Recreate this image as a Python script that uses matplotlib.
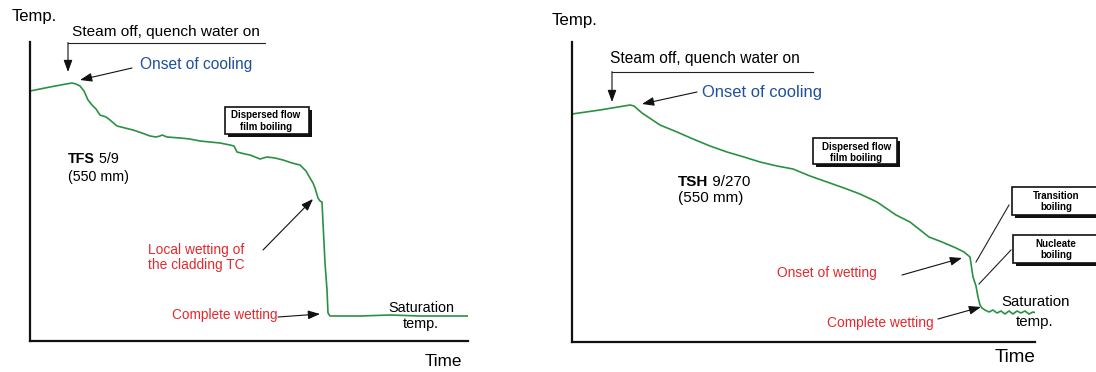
import matplotlib
matplotlib.use("Agg")
import matplotlib.pyplot as plt
from matplotlib.patches import Rectangle

plt.rcParams['font.family'] = ['Liberation Sans', 'DejaVu Sans']

GREEN = '#2b9142'
BLUE = '#1f4f9f'
RED = '#e5282c'

# quench curve, TFS 5/9 (time and temperature in arbitrary units)
tfs_time = [0, 20, 36, 42, 46, 50, 54, 58, 62, 66, 70, 76, 80, 87, 95, 103, 112, 120,
            126, 130, 132, 137, 150, 160, 170, 180, 190, 200, 204, 207, 215, 220, 230,
            237, 245, 253, 262, 270, 276, 280, 283, 285, 288, 290, 292, 293, 294, 295,
            297, 298, 300, 330, 360, 390, 440]
tfs_temp = [250, 254, 257, 258, 257, 255, 250, 241, 236, 232, 226, 224, 221, 215, 213,
            211, 208, 205, 204, 205, 206, 204, 203, 202, 200, 199, 198, 196, 195, 189,
            187, 186, 182, 184, 183, 181, 178, 176, 170, 163, 158, 153, 143, 140, 139,
            118, 98, 78, 51, 28, 25, 25, 26, 25, 25]

# quench curve, TSH 9/270
tsh_time = [0, 28, 58, 62, 70, 88, 105, 121, 138, 155, 172, 188, 205, 221, 238, 255,
            272, 288, 305, 324, 338, 357, 370, 384, 392, 398, 401, 404, 406, 408, 410,
            413, 417, 421, 425, 429, 433, 437, 441, 445, 449, 453, 457, 461, 464]
tsh_temp = [228, 232, 237, 236, 229, 217, 210, 203, 196, 190, 185, 180, 176, 173, 166,
            160, 154, 148, 140, 127, 120, 105, 100, 94, 90, 85, 65, 56, 45, 37, 34,
            32, 30, 32, 29, 31, 28, 31, 28, 31, 29, 31, 28, 30, 29]

fig = plt.figure(figsize=(10.96, 3.72), dpi=100)
W, H = 1096, 372

ax1 = fig.add_axes([30 / W, 31 / H, 438 / W, 299 / H])
ax2 = fig.add_axes([572 / W, 30 / H, 463 / W, 300 / H])
ax1.set_xlim(0, 438)
ax1.set_ylim(0, 299)
ax2.set_xlim(0, 463)
ax2.set_ylim(0, 300)

for ax in (ax1, ax2):
    ax.set_xticks([])
    ax.set_yticks([])
    for side in ('top', 'right'):
        ax.spines[side].set_visible(False)
    for side in ('left', 'bottom'):
        ax.spines[side].set_linewidth(1.6)
        ax.spines[side].set_color('#111111')

arrow = dict(arrowstyle='-|>,head_length=0.6,head_width=0.22', color='#111111',
             lw=0.8, mutation_scale=12, shrinkA=0, shrinkB=0)


def label_box(ax, x0, x1, y0, y1, text, tx, ty):
    shadow = Rectangle((x0 + 3, y0 - 3), x1 - x0, y1 - y0, facecolor='#111111',
                       edgecolor='none', clip_on=False, zorder=3)
    box = Rectangle((x0, y0), x1 - x0, y1 - y0, facecolor='white',
                    edgecolor='#111111', lw=1.2, clip_on=False, zorder=4)
    ax.add_patch(shadow)
    ax.add_patch(box)
    ax.text(tx, ty, text, ha='center', va='center', fontsize=7, weight='bold',
            linespacing=1.15, zorder=5)


def run_label(ax, x, y, bold, rest, size):
    t = ax.text(x, y, bold, weight='bold', fontsize=size, va='center', ha='left')
    ax.annotate(rest, xy=(1, 0), xycoords=t, va='bottom', ha='left', fontsize=size)


# ---- left panel: TFS 5/9 ----
ax1.plot(tfs_time, tfs_temp, color=GREEN, lw=1.2)
ax1.text(-18, 324, 'Temp.', fontsize=12, va='center', ha='left')
ax1.text(395, -21, 'Time', fontsize=12.3, va='center', ha='left')

ax1.text(42, 309, 'Steam off, quench water on', fontsize=11.1, va='center', ha='left')
ax1.plot([38, 235], [298, 298], color='#222222', lw=0.8, clip_on=False)
ax1.annotate('', xy=(38, 269), xytext=(38, 298.4), arrowprops=arrow)

ax1.text(110, 276, 'Onset of cooling', fontsize=11.2, color=BLUE, va='center', ha='left')
ax1.annotate('', xy=(50, 261), xytext=(102, 273), arrowprops=arrow)

label_box(ax1, 195, 279, 207, 234, 'Dispersed flow\nfilm boiling', 236, 220)

run_label(ax1, 38, 182, 'TFS', ' 5/9', 10.3)
ax1.text(38, 164, '(550 mm)', fontsize=10.3, va='center', ha='left')

ax1.text(118, 83.5, 'Local wetting of\nthe cladding TC', fontsize=9.9, color=RED,
         va='center', ha='left', linespacing=1.15)
ax1.annotate('', xy=(283, 142), xytext=(233, 91), arrowprops=arrow)

ax1.text(142, 26, 'Complete wetting', fontsize=9.8, color=RED, va='center', ha='left')
ax1.annotate('', xy=(290, 27), xytext=(248, 24), arrowprops=arrow)

ax1.text(391, 33, 'Saturation', fontsize=10.4, va='center', ha='center')
ax1.text(391, 17, 'temp.', fontsize=10.4, va='center', ha='center')

# ---- right panel: TSH 9/270 ----
ax2.plot(tsh_time, tsh_temp, color=GREEN, lw=1.2)
ax2.text(-20, 321, 'Temp.', fontsize=12.2, va='center', ha='left')
ax2.text(423, -16, 'Time', fontsize=13.6, va='center', ha='left')

ax2.text(38, 283, 'Steam off, quench water on', fontsize=11.2, va='center', ha='left')
ax2.plot([40, 241], [270, 270], color='#222222', lw=0.8)
ax2.annotate('', xy=(40, 240), xytext=(40, 270.4), arrowprops=arrow)

ax2.text(130, 249, 'Onset of cooling', fontsize=11.9, color=BLUE, va='center', ha='left')
ax2.annotate('', xy=(70, 238), xytext=(125, 250), arrowprops=arrow)

label_box(ax2, 241, 325, 178, 204, 'Dispersed flow\nfilm boiling', 284.5, 189.5)
label_box(ax2, 440, 540, 127, 155, 'Transition\nboiling', 484, 140.5)
label_box(ax2, 441, 540, 79, 107, 'Nucleate\nboiling', 484, 92.5)
ax2.plot([404, 437], [80, 137], color='#222222', lw=0.8, clip_on=False)
ax2.plot([407, 439], [58, 92], color='#222222', lw=0.8, clip_on=False)

run_label(ax2, 106, 160, 'TSH', ' 9/270', 11)
ax2.text(106, 144, '(550 mm)', fontsize=11, va='center', ha='left')

ax2.text(205, 69, 'Onset of wetting', fontsize=9.9, color=RED, va='center', ha='left')
ax2.annotate('', xy=(390, 84), xytext=(330, 67), arrowprops=arrow)

ax2.text(255, 19, 'Complete wetting', fontsize=9.9, color=RED, va='center', ha='left')
ax2.annotate('', xy=(409, 35), xytext=(366, 23), arrowprops=arrow)

ax2.text(464, 40, 'Saturation', fontsize=10.8, va='center', ha='center')
ax2.text(463, 20, 'temp.', fontsize=10.8, va='center', ha='center')

fig.savefig('out.png', dpi=100)
